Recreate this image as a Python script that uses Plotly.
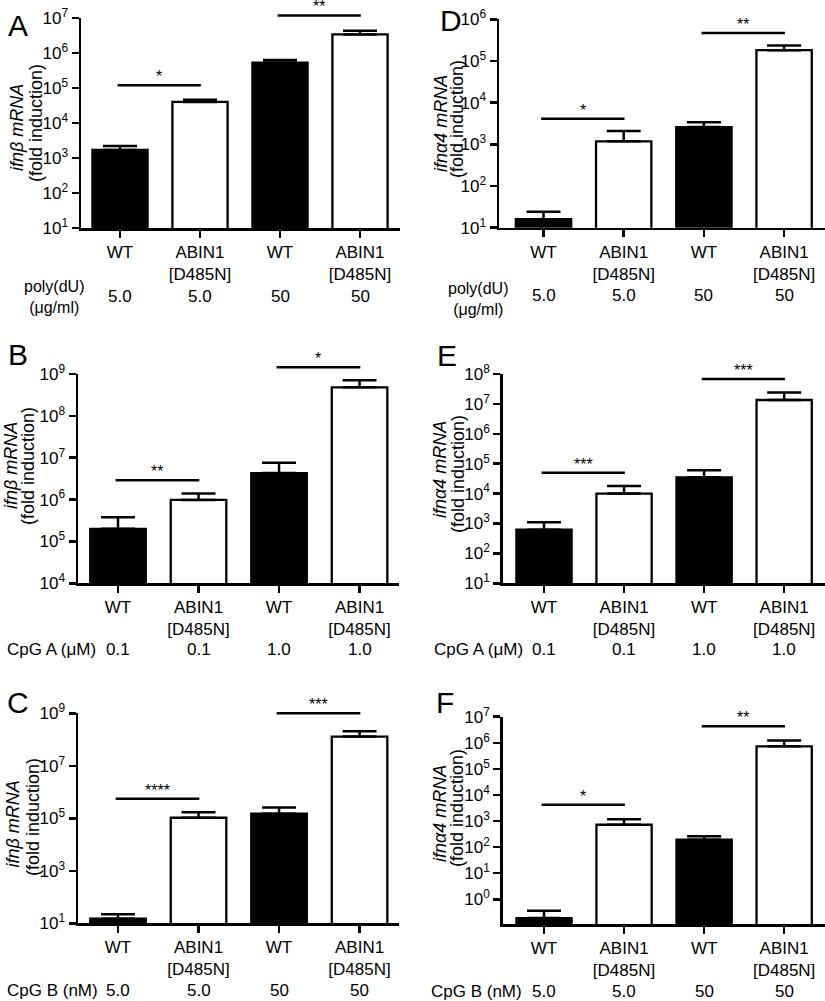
import math
import plotly.graph_objects as go

W, H = 825, 1001
FONT = "Liberation Sans, Arial, Helvetica, sans-serif"

# ---------------- data ----------------
categories = ["WT", "ABIN1<br>[D485N]", "WT", "ABIN1<br>[D485N]"]
bar_colors = ["black", "white", "black", "white"]

# Panel A: ifnb mRNA, poly(dU)
A_mean = [1700, 40000, 530000, 3.4e6]
A_sem = [500, 6000, 100000, 900000]
A_sig = ["*", "**"]
A_sig_y = [1.2e5, 1.18e7]
# Panel D: ifna4 mRNA, poly(dU)
D_mean = [16, 1180, 2600, 182000]
D_sem = [8, 920, 800, 54000]
D_sig = ["*", "**"]
D_sig_y = [4.1e3, 4.7e5]
# Panel B: ifnb mRNA, CpG A
B_mean = [2.0e5, 9.8e5, 4.3e6, 4.8e8]
B_sem = [1.8e5, 4.2e5, 3.3e6, 2.3e8]
B_sig = ["**", "*"]
B_sig_y = [2.9e6, 1.45e9]
# Panel E: ifna4 mRNA, CpG A
E_mean = [620, 10000, 35000, 1.35e7]
E_sem = [480, 8000, 25000, 1.05e7]
E_sig = ["***", "***"]
E_sig_y = [5.0e4, 6.8e7]
# Panel C: ifnb mRNA, CpG B
C_mean = [15, 1.05e5, 1.5e5, 1.3e8]
C_sem = [7, 6.5e4, 1.1e5, 7.5e7]
C_sig = ["****", "***"]
C_sig_y = [5.5e5, 1.0e9]
# Panel F: ifna4 mRNA, CpG B
F_mean = [0.19, 720, 192, 7.3e5]
F_sem = [0.17, 450, 68, 5.0e5]
F_sig = ["*", "**"]
F_sig_y = [4.2e3, 4.3e6]

polydu_doses = ["5.0", "5.0", "50", "50"]
cpga_doses = ["0.1", "0.1", "1.0", "1.0"]
cpgb_doses = ["5.0", "5.0", "50", "50"]

ifnb_title = "<i>ifnβ mRNA</i>"
ifna_title = "<i>ifnα4 mRNA</i>"
fold_title = "(fold induction)"

# ---------------- layout of panels (pixels) ----------------
panels = [
    dict(letter="A", mean=A_mean, sem=A_sem, sig=A_sig, sig_y=A_sig_y,
         xpx=(81, 400), ypx=(18, 228), xr=(-0.4875, 3.5), yr=(1, 7), tv=list(range(1, 8)),
         title=ifnb_title, t1=(17, 128), t2=(36, 123), letter_pos=(17.5, 25),
         row="poly(dU)<br>(μg/ml)", row_pos=(54, 297), row_anchor="center", row_size=16,
         doses=polydu_doses, dose_y=296),
    dict(letter="D", mean=D_mean, sem=D_sem, sig=D_sig, sig_y=D_sig_y,
         xpx=(499, 825), ypx=(19.3, 227.7), xr=(-0.555, 3.51), yr=(1, 6), tv=list(range(1, 7)),
         title=ifna_title, t1=(441, 124), t2=(457, 119), letter_pos=(451, 21),
         row="poly(dU)<br>(μg/ml)", row_pos=(478, 299), row_anchor="center", row_size=16,
         doses=polydu_doses, dose_y=295),
    dict(letter="B", mean=B_mean, sem=B_sem, sig=B_sig, sig_y=B_sig_y,
         xpx=(78, 399), ypx=(374, 583.3), xr=(-0.497, 3.49), yr=(4, 9), tv=list(range(4, 10)),
         title=ifnb_title, t1=(11, 466), t2=(28, 466), letter_pos=(18, 354),
         row="CpG A (μM)", row_pos=(5, 649), row_anchor="left", row_size=17,
         doses=cpga_doses, dose_y=649),
    dict(letter="E", mean=E_mean, sem=E_sem, sig=E_sig, sig_y=E_sig_y,
         xpx=(502.7, 825), ypx=(374, 583.3), xr=(-0.516, 3.51), yr=(1, 8), tv=list(range(1, 9)),
         title=ifna_title, t1=(440, 470), t2=(458, 474), letter_pos=(447, 355),
         row="CpG A (μM)", row_pos=(432, 649), row_anchor="left", row_size=17,
         doses=cpga_doses, dose_y=649),
    dict(letter="C", mean=C_mean, sem=C_sem, sig=C_sig, sig_y=C_sig_y,
         xpx=(78, 399), ypx=(713.3, 923.3), xr=(-0.497, 3.49), yr=(1, 9), tv=[1, 3, 5, 7, 9],
         title=ifnb_title, t1=(12.5, 824), t2=(33, 817), letter_pos=(18, 702),
         row="CpG B (nM)", row_pos=(5, 990), row_anchor="left", row_size=17,
         doses=cpgb_doses, dose_y=990),
    dict(letter="F", mean=F_mean, sem=F_sem, sig=F_sig, sig_y=F_sig_y,
         xpx=(502.7, 825), ypx=(716.7, 924.3), xr=(-0.516, 3.51), yr=(-0.96, 7), tv=list(range(0, 8)),
         title=ifna_title, t1=(440, 814), t2=(457, 808), letter_pos=(445, 702),
         row="CpG B (nM)", row_pos=(429, 991), row_anchor="left", row_size=17,
         doses=cpgb_doses, dose_y=991),
]

def fx(p):
    return p / W

def fy(p):
    return 1 - p / H

fig = go.Figure()
annotations = []
shapes = []
AXW = 2.5
xpos = [0, 1, 2, 3]

for i, p in enumerate(panels):
    n = "" if i == 0 else str(i + 1)
    xa, ya = "x" + n, "y" + n
    fig.add_trace(go.Bar(
        x=xpos, y=p["mean"], width=0.69,
        marker=dict(color=bar_colors, line=dict(color="black", width=2.3)),
        error_y=dict(type="data", array=p["sem"], arrayminus=[0] * 4, symmetric=False,
                     color="black", thickness=2.5, width=17),
        xaxis=xa, yaxis=ya, showlegend=False, hoverinfo="skip",
    ))
    ax_common = dict(showgrid=False, zeroline=False, showline=True, linecolor="black",
                     linewidth=AXW, ticks="outside", tickcolor="black", tickwidth=AXW,
                     automargin=False, fixedrange=True)
    fig.update_layout(**{
        ("xaxis" + n): dict(domain=[fx(p["xpx"][0]), fx(p["xpx"][1])], range=list(p["xr"]),
                            anchor=ya, tickvals=xpos, ticktext=categories, ticklen=7,
                            tickfont=dict(family=FONT, size=17, color="black"),
                            **ax_common),
        ("yaxis" + n): dict(domain=[fy(p["ypx"][1]), fy(p["ypx"][0])], type="log",
                            range=list(p["yr"]), anchor=xa,
                            tickvals=[10 ** t for t in p["tv"]],
                            ticktext=["10<sup>%d</sup>" % t for t in p["tv"]],
                            ticklen=7,
                            tickfont=dict(family=FONT, size=17, color="black"),
                            **ax_common),
    })
    r0, r1 = p["yr"]
    # significance bars
    for j, (txt, yv) in enumerate(zip(p["sig"], p["sig_y"])):
        c0 = 2 * j
        yd = (math.log10(yv) - r0) / (r1 - r0)
        shapes.append(dict(type="line", xref=xa, yref=ya + " domain",
                           x0=c0 - 0.03, x1=c0 + 1.01, y0=yd, y1=yd,
                           line=dict(color="black", width=2.5)))
        annotations.append(dict(xref=xa, yref=ya + " domain", x=c0 + 0.49, y=yd,
                                text=txt, showarrow=False, yanchor="bottom", xanchor="center",
                                yshift=-2, font=dict(family=FONT, size=16, color="black")))
    # panel letter
    annotations.append(dict(xref="paper", yref="paper", x=fx(p["letter_pos"][0]),
                            y=fy(p["letter_pos"][1]), text=p["letter"], showarrow=False,
                            xanchor="center", yanchor="middle",
                            font=dict(family=FONT, size=30, color="black")))
    # y titles
    for txt, pos in ((p["title"], p["t1"]), (fold_title, p["t2"])):
        annotations.append(dict(xref="paper", yref="paper", x=fx(pos[0]), y=fy(pos[1]),
                                text=txt, showarrow=False, textangle=-90,
                                xanchor="center", yanchor="middle",
                                font=dict(family=FONT, size=18, color="black")))
    # dose row
    annotations.append(dict(xref="paper", yref="paper", x=fx(p["row_pos"][0]),
                            y=fy(p["row_pos"][1]), text=p["row"], showarrow=False,
                            xanchor=p["row_anchor"], yanchor="middle",
                            font=dict(family=FONT, size=p["row_size"], color="black")))
    for k, d in enumerate(p["doses"]):
        annotations.append(dict(xref=xa, yref="paper", x=xpos[k], y=fy(p["dose_y"]),
                                text=d, showarrow=False, xanchor="center", yanchor="middle",
                                font=dict(family=FONT, size=17, color="black")))

fig.update_layout(
    width=W, height=H, margin=dict(l=0, r=0, t=0, b=0, autoexpand=False),
    paper_bgcolor="white", plot_bgcolor="white",
    showlegend=False, bargap=0,
    annotations=annotations, shapes=shapes,
    font=dict(family=FONT, color="black"),
)

fig.write_html("out.html", config={"displayModeBar": False, "staticPlot": True},
               post_script="document.body.style.margin='0';document.body.style.overflow='hidden';")
